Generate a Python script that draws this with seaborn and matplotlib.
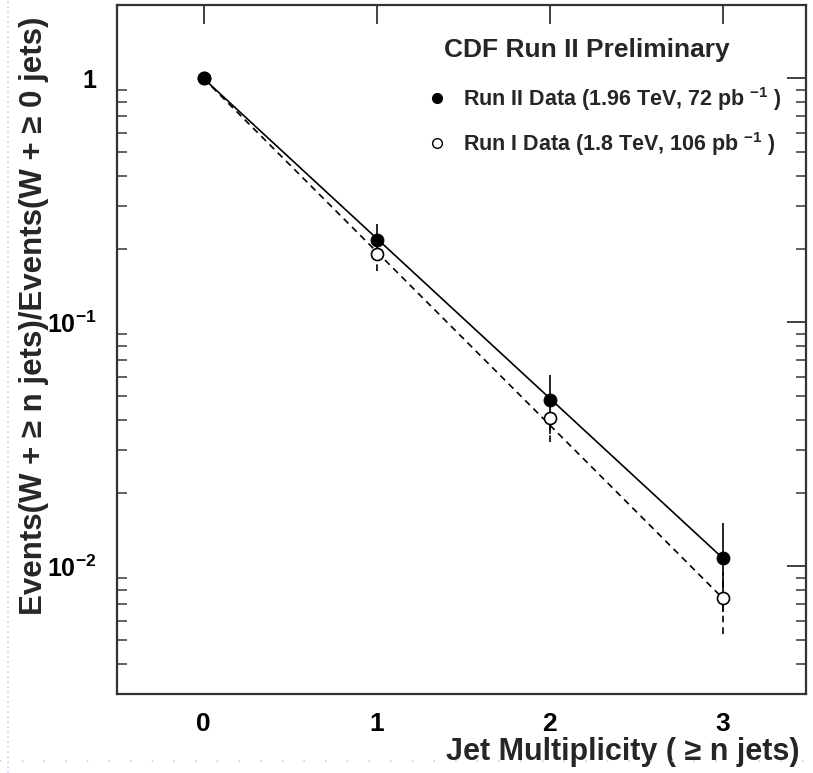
import numpy as np
import pandas as pd
import matplotlib
matplotlib.use("Agg")
import matplotlib.pyplot as plt
from matplotlib.lines import Line2D
import seaborn as sns

# ---- data ----
n_jets = [0, 1, 2, 3]
run2_vals = [1.0, 0.217, 0.048, 0.0108]
run2_err = [0.05, 0.035, 0.013, 0.0043]
run1_vals = [1.0, 0.19, 0.0405, 0.0074]
run1_err = [0.05, 0.028, 0.008, 0.0021]
fit_x = [0, 3]
fit_run2 = [1.0, 0.0108]
fit_run1 = [1.0, 0.0074]
xticks = [0, 1, 2, 3]
yticks = [0.01, 0.1, 1.0]
ytick_labels = [r"$10^{-2}$", r"$10^{-1}$", "1"]
title_txt = "CDF Run II Preliminary"
lab2 = r"Run II Data (1.96 TeV, 72 pb $^{-1}$ )"
lab1 = r"Run I Data (1.8 TeV, 106 pb $^{-1}$ )"

sns.set_style("white")
plt.rcParams["font.family"] = ["Liberation Sans", "DejaVu Sans"]
plt.rcParams["font.weight"] = "bold"
plt.rcParams["mathtext.fontset"] = "custom"
plt.rcParams["mathtext.rm"] = "Liberation Sans:bold"
plt.rcParams["mathtext.bf"] = "Liberation Sans:bold"
plt.rcParams["mathtext.it"] = "Liberation Sans:bold"
plt.rcParams["mathtext.default"] = "rm"

fig = plt.figure(figsize=(8.13, 7.73), dpi=100)
ax = fig.add_axes([117/813, 1-694/773, (806-117)/813, (694-5)/773])

df_fit = pd.DataFrame({"x": fit_x + fit_x,
                       "y": fit_run2 + fit_run1,
                       "s": ["Run II"]*2 + ["Run I"]*2})
sns.lineplot(data=df_fit[df_fit.s == "Run II"], x="x", y="y", ax=ax,
             color="black", lw=1.2, linestyle="-", legend=False)
sns.lineplot(data=df_fit[df_fit.s == "Run I"], x="x", y="y", ax=ax,
             color="black", lw=1.2, linestyle=(0, (4, 3)), legend=False)

eb2 = ax.errorbar(n_jets, run2_vals, yerr=run2_err, fmt="none", ecolor="black",
                  elinewidth=1.2, capsize=0)
eb1 = ax.errorbar(n_jets, run1_vals, yerr=run1_err, fmt="none", ecolor="black",
                  elinewidth=1.2, capsize=0)
for c in eb1[2]:
    c.set_linestyle((0, (4, 3)))

df_pts = pd.DataFrame({"x": n_jets + n_jets, "y": run2_vals + run1_vals,
                       "s": ["Run II"]*4 + ["Run I"]*4})
sns.scatterplot(data=df_pts[df_pts.s == "Run I"], x="x", y="y", ax=ax,
                marker="o", s=75, facecolor="white", edgecolor="black",
                linewidth=1.2, legend=False, zorder=5)
sns.scatterplot(data=df_pts[df_pts.s == "Run II"], x="x", y="y", ax=ax,
                marker="o", s=85, color="black", edgecolor="black",
                legend=False, zorder=6)

ax.set_yscale("log")
ax.set_xlim(-0.5, 3.48)
ax.set_ylim(0.003, 2.0)
ax.set_xticks(xticks)
ax.set_xticklabels([str(t) for t in xticks])
ax.set_yticks(yticks)
ax.set_yticklabels(ytick_labels)
ax.tick_params(axis="both", which="major", direction="in", length=14,
               width=1.3, top=True, right=True, labelsize=19, pad=13,
               colors="#333333", labelcolor="black")
ax.tick_params(axis="y", which="major", pad=15, labelsize=18)
ax.tick_params(axis="y", which="minor", direction="in", length=7, width=1.3,
               left=True, right=True, colors="#555555")
ax.tick_params(axis="x", which="minor", bottom=False, top=False)
for s in ax.spines.values():
    s.set_linewidth(1.6)
    s.set_color("#333333")

ax.set_xlabel("Jet Multiplicity ( \u2265 n jets)", fontsize=22, fontweight="bold",
              loc="right")
ax.xaxis.set_label_coords(0.991, -0.062)
ax.set_ylabel("Events(W + \u2265 n jets)/Events(W + \u2265 0 jets)", fontsize=22.5,
              fontweight="bold")
ax.yaxis.set_label_coords(-0.098, 0.549)

ax.text(0.682, 0.935, title_txt, transform=ax.transAxes, ha="center",
        va="center", fontsize=19, fontweight="bold")
handles = [Line2D([], [], marker="o", ls="none", color="black", markersize=7),
           Line2D([], [], marker="o", ls="none", markerfacecolor="white",
                  markeredgecolor="black", markersize=7, markeredgewidth=1)]
leg = ax.legend(handles, [lab2, lab1], loc="center left",
                bbox_to_anchor=(0.446, 0.831), frameon=False, fontsize=15.5,
                handletextpad=0.6, handlelength=1.2, borderpad=0,
                borderaxespad=0, labelspacing=0.8)

# slide background dotted guides
fig.add_artist(Line2D([0.01, 0.01], [0.0, 1.0], transform=fig.transFigure,
                      color="#c8d2f0", lw=1.2, ls=(0, (1, 2))))
fig.add_artist(Line2D([0.0, 1.0], [0.015, 0.015], transform=fig.transFigure,
                      color="#c8d2f0", lw=1.2, ls=(0, (1, 12))))

fig.savefig("out.png", dpi=100)
